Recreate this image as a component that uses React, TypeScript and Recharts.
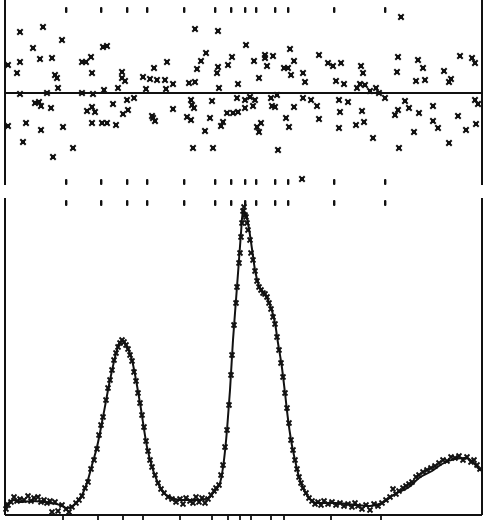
import React from 'react';
import { ComposedChart, Line, Scatter, XAxis, YAxis, ReferenceLine } from 'recharts';

// Reflection marker positions (same x units as the pattern, ~pixel scale of the scan)
const REFLECTIONS = [66, 101, 127, 147, 184, 215, 231, 245, 256, 275, 288, 334, 385];
// Tick marks on the bottom axis
const AXIS_TICKS = [63, 98, 123, 143, 180, 212, 228, 240, 251, 271, 284, 331, 381];

// Heights of the three rows of reflection markers
const ROW_TOP = 83; // in residual units (upper panel)
const ROW_LOWER = -89; // in residual units (upper panel)
const ROW_PATTERN = 312; // in intensity units (lower panel)

// Calculated profile [x, intensity]
const CALC: [number, number][] = [
  [5, 8], [13, 15], [20, 13], [33, 14], [50, 12], [60, 10], [67, 7], [77, 13], [82, 20], [87, 32],
  [92, 50], [97, 68], [103, 98], [110, 135], [117, 165], [120, 173], [123, 174], [126, 170],
  [132, 155], [136, 135], [140, 112], [147, 68], [153, 45], [158, 32], [163, 23], [170, 18],
  [180, 15], [200, 15], [210, 18], [213, 22], [218, 28], [220, 32], [224, 55], [227, 85],
  [230, 125], [233, 175], [236, 215], [239, 255], [241, 282], [243, 305], [246, 300], [249, 286],
  [252, 266], [255, 245], [259, 229], [264, 222], [268, 215], [272, 204], [275, 192], [278, 172],
  [282, 147], [285, 122], [288, 96], [291, 75], [295, 55], [299, 38], [303, 27], [307, 20],
  [312, 14], [318, 12], [335, 12], [355, 10], [370, 9], [382, 12], [395, 21], [409, 28],
  [419, 37], [432, 44], [442, 51], [455, 56], [465, 57], [472, 54], [479, 46], [482, 44],
];

// Observed points [x, intensity]
const OBS: [number, number][] = [
  [6, 6], [8, 10], [11, 13], [14, 18], [17, 14], [20, 16], [24, 15], [28, 19], [31, 14], [34, 17],
  [38, 18], [41, 13], [44, 15], [47, 12], [50, 14], [52, 3], [55, 13], [58, 4], [62, 10], [66, 6],
  [69, 3], [72, 8], [76, 12], [79, 15], [82, 19], [85, 27], [88, 33], [91, 46], [94, 55], [97, 66],
  [99, 80], [101, 90], [103, 98], [106, 115], [108, 127], [110, 135], [112, 145], [114, 155],
  [116, 162], [118, 168], [120, 172], [122, 175], [124, 173], [126, 170], [128, 166], [130, 160],
  [132, 154], [134, 143], [136, 134], [138, 122], [140, 112], [142, 100], [144, 88], [146, 74],
  [148, 64], [150, 55], [152, 48], [155, 40], [158, 32], [161, 26], [164, 22], [168, 18], [172, 16],
  [176, 13], [180, 16], [183, 11], [186, 17], [190, 14], [193, 12], [196, 18], [199, 13], [202, 17],
  [205, 12], [208, 16], [211, 20], [214, 24], [216, 27], [219, 30], [221, 40], [223, 50], [225, 68],
  [227, 85], [229, 110], [231, 140], [232, 160], [234, 190], [236, 212], [237, 228], [239, 252],
  [240, 262], [241, 278], [242, 292], [243, 304], [244, 308], [245, 300], [246, 298], [247, 292],
  [248, 285], [250, 275], [251, 262], [253, 255], [255, 244], [257, 234], [259, 228], [261, 225],
  [263, 222], [265, 221], [267, 218], [269, 212], [271, 206], [273, 198], [275, 191], [277, 178],
  [279, 165], [281, 152], [283, 138], [285, 122], [287, 107], [289, 92], [291, 75], [293, 65],
  [295, 55], [297, 46], [299, 38], [301, 32], [303, 27], [306, 22], [309, 17], [312, 14], [315, 11],
  [318, 13], [321, 10], [324, 14], [328, 11], [332, 13], [336, 10], [340, 12], [344, 9], [348, 11],
  [352, 8], [355, 12], [358, 9], [362, 6], [366, 10], [370, 5], [374, 11], [378, 9], [382, 12],
  [386, 15], [390, 18], [393, 26], [396, 21], [399, 24], [403, 27], [406, 29], [409, 31], [412, 33],
  [416, 38], [419, 40], [423, 43], [427, 45], [431, 47], [435, 49], [439, 52], [443, 55], [447, 54],
  [451, 58], [455, 57], [459, 59], [463, 55], [467, 58], [471, 53], [474, 55], [477, 50], [480, 46],
];

// Residuals [x, difference]
const RESIDUALS: [number, number][] = [
  [8, 28], [20, 61], [43, 66], [33, 45], [40, 34], [52, 35], [20, 31], [17, 20], [62, 53], [55, 18],
  [57, 15], [58, 5], [82, 31], [86, 31], [91, 36], [92, 20], [103, 46], [107, 47], [122, 21],
  [122, 15], [125, 12], [118, 5], [104, 3], [143, 16], [154, 25], [150, 14], [157, 13], [165, 13],
  [167, 31], [173, 9], [146, 4], [166, 4], [195, 64], [206, 40], [201, 32], [197, 24], [189, 10],
  [195, 11], [218, 62], [232, 36], [228, 28], [218, 26], [217, 20], [238, 9], [219, 5],
  [8, -33], [20, -1], [26, -30], [23, -49], [35, -10], [39, -9], [41, -13], [47, 0], [51, -15],
  [41, -37], [53, -64], [63, -34], [73, -55], [82, 0], [93, -1], [87, -18], [92, -14], [95, -19],
  [92, -30], [102, -30], [107, -30], [116, -32], [113, -11], [123, -21], [128, -17], [127, -7],
  [134, -5], [152, -23], [153, -25], [155, -28], [173, -16], [191, -7], [192, -12], [194, -15],
  [187, -24], [191, -27], [193, -55], [205, -38], [210, -25], [213, -55], [212, -8], [221, -33],
  [223, -29], [227, -20], [233, -20], [238, -19], [237, -5],
  [246, 48], [254, 32], [259, 15], [265, 38], [265, 35], [273, 37], [267, 27], [290, 44], [294, 32],
  [284, 25], [288, 25], [291, 18], [303, 20], [305, 11], [319, 38], [328, 30], [333, 27], [341, 30],
  [336, 12], [344, 9], [361, 27], [363, 20], [360, 9], [365, 8], [357, 5], [370, 2], [376, 5],
  [379, 0], [398, 36], [397, 21], [401, 76], [418, 33], [423, 25], [416, 12], [425, 13], [444, 22],
  [451, 14], [449, 11], [460, 37], [472, 35], [475, 30],
  [245, -7], [245, -15], [250, -4], [255, -7], [253, -13], [257, -34], [259, -39], [261, -30],
  [271, -5], [272, -13], [275, -14], [277, -2], [278, -57], [286, -25], [289, -34], [294, -14],
  [303, -5], [311, -7], [317, -13], [319, -26], [339, -7], [340, -19], [339, -35], [348, -9],
  [356, -32], [362, -18], [364, -29], [373, -45], [385, -5], [398, -17], [395, -22], [399, -55],
  [405, -8], [409, -15], [414, -39], [419, -20], [433, -13], [433, -28], [438, -35], [449, -50],
  [458, -23], [466, -37], [476, -31], [475, -7], [478, -11], [302, -86],
];

const X_DOMAIN: [number, number] = [5, 482];
const RES_DOMAIN: [number, number] = [-92, 93];
const INT_DOMAIN: [number, number] = [0, 317];

const INK = '#111';

const toXY = (arr: [number, number][]) => arr.map(([x, y]) => ({ x, y }));
const rowData = (y: number) => REFLECTIONS.map((x) => ({ x, y }));
const axisTickData = AXIS_TICKS.map((x) => ({ x, y: 0 }));

const ObsMark = (props: any) => {
  const { cx, cy } = props;
  if (cx == null || cy == null) return <g />;
  const s = 2.5;
  return (
    <g>
      <rect x={cx - 1.2} y={cy - 1.2} width={2.4} height={2.4} fill={INK} />
      <path
        d={`M${cx - s},${cy - s}L${cx + s},${cy + s}M${cx - s},${cy + s}L${cx + s},${cy - s}`}
        stroke={INK}
        strokeWidth={1.8}
        fill="none"
      />
    </g>
  );
};

const ResMark = (props: any) => {
  const { cx, cy } = props;
  if (cx == null || cy == null) return <g />;
  const s = 2.7;
  return (
    <g>
      <rect x={cx - 2} y={cy - 2} width={4} height={4} fill={INK} />
      <path
        d={`M${cx - s},${cy - s}L${cx + s},${cy + s}M${cx - s},${cy + s}L${cx + s},${cy - s}`}
        stroke={INK}
        strokeWidth={2}
        fill="none"
      />
    </g>
  );
};

const TickMark = (props: any) => {
  const { cx, cy } = props;
  if (cx == null || cy == null) return <g />;
  return <rect x={cx - 1} y={cy - 3} width={2.4} height={6} rx={1} fill={INK} />;
};

const AxisTick = (props: any) => {
  const { cx, cy } = props;
  if (cx == null || cy == null) return <g />;
  return <rect x={cx - 0.9} y={cy} width={1.8} height={6} fill={INK} />;
};

export default function App() {
  return (
    <div style={{ position: 'absolute', left: 0, top: 0, width: 484, height: 520, background: '#fff' }}>
      {/* Residual panel */}
      <div style={{ position: 'absolute', left: 0, top: 0 }}>
        <ComposedChart width={484} height={187} margin={{ top: 0, right: 2, bottom: 2, left: 5 }}>
          <XAxis type="number" dataKey="x" domain={X_DOMAIN} hide />
          <YAxis type="number" dataKey="y" domain={RES_DOMAIN} hide />
          <ReferenceLine x={X_DOMAIN[0]} stroke={INK} strokeWidth={2} />
          <ReferenceLine x={X_DOMAIN[1]} stroke={INK} strokeWidth={2} />
          <ReferenceLine y={0} stroke={INK} strokeWidth={2} />
          <Scatter data={rowData(ROW_TOP)} dataKey="y" shape={TickMark} isAnimationActive={false} />
          <Scatter data={rowData(ROW_LOWER)} dataKey="y" shape={TickMark} isAnimationActive={false} />
          <Scatter data={toXY(RESIDUALS)} dataKey="y" shape={ResMark} isAnimationActive={false} />
        </ComposedChart>
      </div>
      {/* Pattern panel */}
      <div style={{ position: 'absolute', left: 0, top: 190 }}>
        <ComposedChart width={484} height={330} margin={{ top: 8, right: 2, bottom: 5, left: 5 }}>
          <XAxis type="number" dataKey="x" domain={X_DOMAIN} hide />
          <YAxis type="number" dataKey="y" domain={INT_DOMAIN} hide />
          <ReferenceLine x={X_DOMAIN[0]} stroke={INK} strokeWidth={2} />
          <ReferenceLine x={X_DOMAIN[1]} stroke={INK} strokeWidth={2} />
          <ReferenceLine y={0} stroke={INK} strokeWidth={2} />
          <Scatter data={rowData(ROW_PATTERN)} dataKey="y" shape={TickMark} isAnimationActive={false} />
          <Scatter data={axisTickData} dataKey="y" shape={AxisTick} isAnimationActive={false} />
          <Line
            data={toXY(CALC)}
            dataKey="y"
            type="monotone"
            stroke={INK}
            strokeWidth={2}
            dot={false}
            isAnimationActive={false}
          />
          <Scatter data={toXY(OBS)} dataKey="y" shape={ObsMark} isAnimationActive={false} />
        </ComposedChart>
      </div>
    </div>
  );
}
